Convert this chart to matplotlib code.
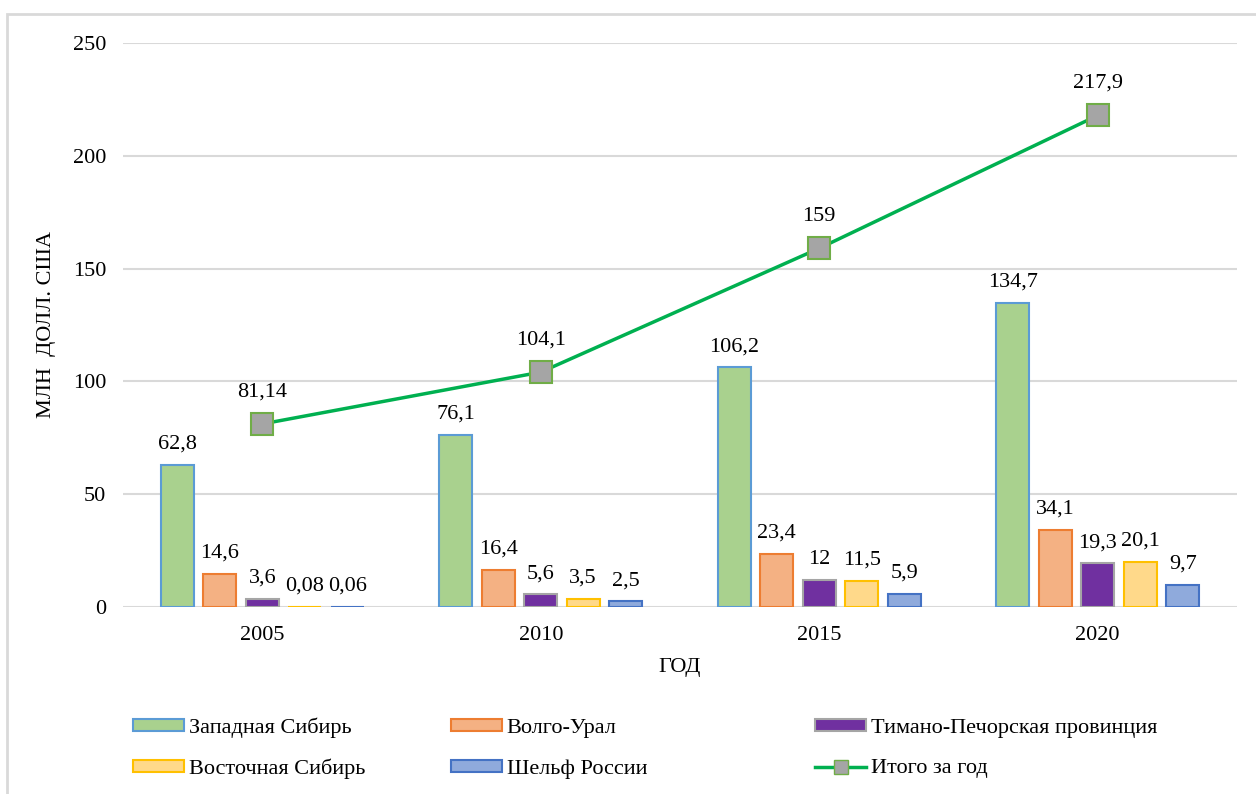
import matplotlib.pyplot as plt
import numpy as np
from matplotlib.patches import Rectangle
from matplotlib.lines import Line2D

plt.rcParams['font.family'] = ['Liberation Serif', 'DejaVu Serif']
plt.rcParams['font.size'] = 16

years = ['2005', '2010', '2015', '2020']
regions = ['Западная Сибирь', 'Волго-Урал', 'Тимано-Печорская провинция',
           'Восточная Сибирь', 'Шельф России']
west_siberia = [62.8, 76.1, 106.2, 134.7]
volga_ural = [14.6, 16.4, 23.4, 34.1]
timan_pechora = [3.6, 5.6, 12, 19.3]
east_siberia = [0.08, 3.5, 11.5, 20.1]
shelf = [0.06, 2.5, 5.9, 9.7]
total = [81.14, 104.1, 159, 217.9]

series = [west_siberia, volga_ural, timan_pechora, east_siberia, shelf]
labels = [['62,8', '76,1', '106,2', '134,7'],
          ['14,6', '16,4', '23,4', '34,1'],
          ['3,6', '5,6', '12', '19,3'],
          ['0,08', '3,5', '11,5', '20,1'],
          ['0,06', '2,5', '5,9', '9,7']]
total_labels = ['81,14', '104,1', '159', '217,9']

fills = ['#a9d18e', '#f4b183', '#7030a0', '#ffd98a', '#8faadc']
edges = ['#5b9bd5', '#ed7d31', '#a5a5a5', '#ffc000', '#4472c4']

fig = plt.figure(figsize=(12.56, 7.94), dpi=100)
ax = fig.add_axes([123 / 1256, 1 - 607 / 794, 1114 / 1256, 564 / 794])

# рамка вокруг всей диаграммы
fig.patches.append(Rectangle((7 / 1256, -0.1), 1.2, (794 - 14) / 794 + 0.1,
                             transform=fig.transFigure, fill=False,
                             edgecolor='#d9d9d9', linewidth=2, zorder=0))

x = np.arange(len(years))
pitch = 0.1526
width = 0.118
for i, (vals, fc, ec) in enumerate(zip(series, fills, edges)):
    pos = x + (i - 2) * pitch
    ax.bar(pos, vals, width=width, color=fc, edgecolor=ec, linewidth=1.5, zorder=3)
    for px, v, t in zip(pos, vals, labels[i]):
        ax.text(px, v + 5, t, ha='center', va='bottom')

ax.plot(x, total, color='#00b050', linewidth=2.5, marker='s', markersize=15.5,
        markerfacecolor='#a5a5a5', markeredgecolor='#70ad47', markeredgewidth=1.5,
        zorder=4)
for px, v, t in zip(x, total, total_labels):
    ax.text(px, v + 10, t, ha='center', va='bottom')

ax.set_xlim(-0.5, 3.5)
ax.set_ylim(0, 250)
ax.set_yticks([0, 50, 100, 150, 200, 250])
ax.set_xticks(x)
ax.set_xticklabels(years)
ax.tick_params(axis='x', length=0, labelsize=16, pad=14)
ax.tick_params(axis='y', length=0, labelsize=16, pad=12)
ax.grid(axis='y', color='#d9d9d9', linewidth=1.5, zorder=0)
ax.set_axisbelow(True)
for s in ax.spines.values():
    s.set_visible(False)

ax.set_xlabel('ГОД', labelpad=9)
ax.set_ylabel('МЛН  ДОЛЛ. США', labelpad=12)

# легенда: каждый элемент на своём месте (3 колонки x 2 строки)
h = [Rectangle((0, 0), 1, 1, facecolor=fc, edgecolor=ec, linewidth=1.5)
     for fc, ec in zip(fills, edges)]
h_total = Line2D([], [], color='#00b050', linewidth=2.5, marker='s', markersize=10,
                 markerfacecolor='#a5a5a5', markeredgecolor='#70ad47')
entries = [(h[0], regions[0], 133, 728), (h[1], regions[1], 451, 728),
           (h[2], regions[2], 815, 728), (h[3], regions[3], 133, 769),
           (h[4], regions[4], 451, 769), (h_total, 'Итого за год', 815, 769)]
for hd, name, lx, ly in entries:
    leg = fig.legend([hd], [name], loc='center left', frameon=False,
                     bbox_to_anchor=(lx / 1256, 1 - ly / 794),
                     borderaxespad=0, borderpad=0, handlelength=2.3,
                     handleheight=0.45, handletextpad=0.2)

fig.savefig('out.png', dpi=100)
